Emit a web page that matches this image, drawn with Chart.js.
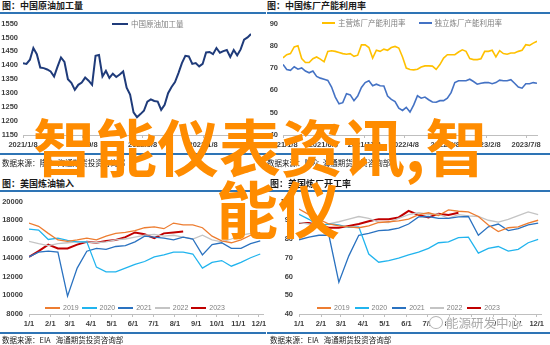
<!DOCTYPE html>
<html lang="zh">
<head>
<meta charset="utf-8">
<title>智能仪表资讯</title>
<script src="https://cdn.jsdelivr.net/npm/chart.js@4.4.0/dist/chart.umd.min.js"></script>
<style>
  html, body { margin: 0; padding: 0; background: #fff; }
  body {
    width: 550px; height: 345px; position: relative; overflow: hidden;
    font-family: "Noto Sans CJK SC", "Liberation Sans", sans-serif;
  }
  canvas { position: absolute; }
  .title { position: absolute; font-size: 9px; line-height: 12px; color: #1a1a1a; font-weight: bold; white-space: nowrap; }
  .source { position: absolute; font-size: 7.5px; line-height: 12px; color: #1a1a1a; white-space: nowrap; }
  .rule { position: absolute; height: 1.5px; background: #2e74b5; }
  .legend { position: absolute; display: flex; align-items: center; font-size: 7.5px; line-height: 10px; color: #7f7f7f; white-space: nowrap; }
  .legend .item { display: flex; align-items: center; }
  .legend .swatch { display: inline-block; margin-right: 3px; }
  .legend.years { font-family: "Liberation Sans", sans-serif; font-size: 7px; }
  .watermark { position: absolute; left: 446px; top: 314px; font-size: 12.5px; line-height: 18px; color: #a9a9a9;
    text-shadow: 1px 0 #fff, -1px 0 #fff, 0 1px #fff, 0 -1px #fff; white-space: nowrap; }
  .wm-icon { position: absolute; left: 429px; top: 316px; width: 12px; height: 11px; border: 1.2px solid #b5b5b5; border-radius: 50%; background: #fff; }
  .overlay { position: absolute; color: #ff8c00; font-size: 62px; line-height: 62px; font-weight: bold; white-space: nowrap;
    font-family: "Noto Sans CJK SC", sans-serif; }
</style>
</head>
<body>

<div class="title" style="left:2px; top:0px;">图：中国原油加工量</div>
<div class="title" style="left:267px; top:0px;">图：中国炼厂产能利用率</div>
<div class="rule" style="left:0; top:12px; width:266px;"></div>
<div class="rule" style="left:267px; top:12px; width:283px;"></div>

<canvas id="crudeChart" width="262" height="140" style="left:0; top:14px;"></canvas>
<canvas id="utilChart" width="284" height="140" style="left:266px; top:14px;"></canvas>

<div class="rule" style="left:0; top:153px; width:266px;"></div>
<div class="rule" style="left:267px; top:153px; width:283px;"></div>
<div class="source" style="left:2px; top:157px;">数据来源：隆众&nbsp;&nbsp;海通期货投资咨询部</div>
<div class="source" style="left:267px; top:157px;">数据来源：隆众&nbsp;&nbsp;海通期货投资咨询部</div>

<div class="title" style="left:2px; top:178px;">图：美国炼油输入</div>
<div class="title" style="left:270px; top:178px;">图：美国炼厂开工率</div>
<div class="rule" style="left:0; top:190px; width:266px;"></div>
<div class="rule" style="left:267px; top:190px; width:283px;"></div>

<canvas id="inputChart" width="272" height="142" style="left:0; top:191px;"></canvas>
<canvas id="rateChart" width="280" height="142" style="left:270px; top:191px;"></canvas>

<div class="rule" style="left:0; top:332px; width:266px;"></div>
<div class="rule" style="left:267px; top:332px; width:283px;"></div>
<div class="source" style="left:2px; top:334px;">数据来源：EIA&nbsp;&nbsp;&nbsp;海通期货投资咨询部</div>
<div class="source" style="left:270px; top:334px;">数据来源：EIA&nbsp;&nbsp;&nbsp;海通期货投资咨询部</div>

<div id="legendCrude" class="legend" style="left:112px; top:19px;"></div>
<div id="legendUtil" class="legend" style="left:322px; top:18px;"></div>
<div id="legendInput" class="legend years" style="left:45px; top:303px;"></div>
<div id="legendRate" class="legend years" style="left:317px; top:303px;"></div>

<div class="wm-icon"></div>
<div class="watermark">能源研发中心</div>

<div class="overlay" style="left:33px; top:114px;">智能仪表资讯,智</div>
<div class="overlay" style="left:216px; top:176px;">能仪</div>

<script>
// ===================================
// DATA
// ===================================

// top charts: one value every 14 days, starting at the first date
const crudeStart = '2021/1/8';
const crudeTicks = ['2021/1/8', '2021/9/8', '2022/5/8', '2023/1/8'];
const crudeRuns = [1407, 1405, 1420, 1462, 1440, 1392, 1390, 1385, 1378, 1360,
    1395, 1428, 1412, 1350, 1337, 1312, 1330, 1338, 1356, 1345,
    1330, 1434, 1437, 1360, 1380, 1355, 1370, 1358, 1367, 1378,
    1320, 1295, 1231, 1214, 1225, 1237, 1270, 1278, 1272, 1270,
    1240, 1258, 1300, 1322, 1340, 1372, 1408, 1434, 1432, 1405,
    1408, 1396, 1405, 1446, 1448, 1440, 1462, 1445, 1451, 1455,
    1430, 1455, 1436, 1457, 1492, 1500, 1512];

const utilStart = '2021/1/8';
const utilTicks = ['2021/1/8', '2021/6/8', '2021/11/8', '2022/4/8', '2022/9/8', '2023/2/8', '2023/7/8'];
const mainRefinery = [74.6, 76, 76.5, 79.5, 80, 74.3, 72.5, 72.5, 74.2, 75,
    74, 72.8, 77.5, 77.8, 77.5, 77, 76.5, 76.2, 76.5, 75.3,
    75.8, 80.4, 80.4, 79.2, 74.5, 78, 77.5, 78.5, 78, 79.2,
    79.7, 79, 75, 70, 69.4, 69.2, 69.5, 70.5, 71, 71,
    70.9, 69.4, 71.6, 74.5, 76, 76, 76, 77.2, 78.2, 77.5,
    74.3, 73.8, 73.8, 74.2, 77.5, 77.5, 78, 75, 77.8, 76.5,
    76.2, 76.8, 76.8, 77.5, 78, 80.5, 80.2, 81.2, 82];
const independentRefinery = [71.6, 69.4, 69, 70.6, 69.5, 70.1, 68.7, 67.9, 68.7, 66.3,
    65.5, 65, 64.5, 61.5, 57, 54, 54.5, 58.5, 58, 55.4,
    57.5, 61.3, 63.5, 64.3, 62.1, 62.8, 62.1, 62, 57.5, 56,
    55, 52, 51, 52.4, 50.3, 53.5, 57.6, 56.5, 57, 55.8,
    54.8, 54.7, 55.4, 55.4, 56.5, 59, 63.5, 64.3, 64.3, 64.3,
    65, 64, 62.8, 63.2, 63.5, 63.5, 63, 63.5, 64.6, 64.3,
    64.3, 64.8, 63.2, 61.5, 61, 63, 63, 63.5, 63.2];

// bottom charts: seasonal, one value every 14 days from 1/1
const seasonYear = 2019;
const monthTicks = ['1/1', '2/1', '3/1', '4/1', '5/1', '6/1', '7/1', '8/1', '9/1', '10/1', '11/1', '12/1'];
const years = ['2019', '2020', '2021', '2022', '2023'];

const input2019 = [17700, 17350, 16600, 15900, 15750, 15900, 16100, 15900, 16300, 16600, 16700, 16900, 17200,
    17300, 17100, 17700, 17500, 17500, 17200, 16300, 15800, 15600, 15900, 16400, 16700];
const input2020 = [17060, 16950, 15950, 16100, 15850, 15700, 15700, 13000, 12500, 12500, 12900, 13300, 13600,
    14100, 14300, 14600, 14600, 14400, 12900, 13500, 13700, 13100, 13500, 14000, 14400];
const input2021 = [14100, 14600, 14700, 14600, 9900, 12900, 14700, 15000, 14900, 15200, 15300, 15700, 16300,
    16200, 16100, 15900, 16200, 16000, 14300, 15400, 15600, 15000, 15000, 15500, 15800];
const input2022 = [15750, 15500, 15300, 15500, 15600, 15700, 15700, 15600, 15700, 15900, 16000, 16200, 16400,
    16500, 16300, 16400, 16200, 16000, 16400, 15900, 15700, 16000, 16400, 16600, 16500];
const input2023 = [14100, 14700, 15400, 15000, 15000, 15400, 15700, 15600, 15800, 15900, 16200, 16700, 16500,
    16100, 16600, 16700, 16800];

const rate2019 = [96, 93, 90.5, 88, 87, 86.5, 86, 87, 88.8, 89.2, 89.7, 90.6, 93,
    94, 92.5, 95.5, 94.8, 94.5, 92, 87.5, 84, 86, 86.5, 88.5, 90];
const rate2020 = [93.2, 90.5, 87, 88, 87.5, 86.2, 86.5, 72, 67.6, 68.5, 69.8, 71.5, 73,
    75, 78, 78.5, 80.7, 81, 72.5, 75, 76, 73.5, 74.5, 78, 79.8];
const rate2021 = [79.6, 81, 82, 82, 57, 71, 82, 83, 84.5, 84.8, 85.8, 88, 91.8,
    92, 91, 91, 91.8, 92, 82, 86.5, 88, 84.5, 85.5, 87.5, 88.5];
const rate2022 = [88.8, 88, 87.2, 88, 89.2, 90.6, 92, 91, 89, 88.8, 91, 93, 94,
    93.2, 93.2, 91, 93, 92.3, 92, 90, 89, 90.5, 92.5, 94.5, 93];
const rate2023 = [88.5, 88.5, 87.4, 86, 86, 87, 88, 89.5, 90.6, 90.6, 91.5, 95, 92.8,
    91.5, 93.5, 92.8, 94];

const yearColors = ['#ed7d31', '#21b4ee', '#2a72c0', '#c4c4c4', '#c00000'];
const yearWidths = [1.3, 1.3, 1.3, 1.3, 2];

// ===================================
// HELPERS
// ===================================

const STEP_DAYS = 14;

function parseDay(str) {
    const [y, m, d] = str.split('/').map(Number);
    return Date.UTC(y, m - 1, d) / 864e5;
}

function daysBetween(from, to) {
    return Math.round(parseDay(to) - parseDay(from));
}

function toPoints(values) {
    return values.map((v, i) => ({ x: i * STEP_DAYS, y: v }));
}

const tickFont = { family: 'Liberation Sans', size: 7.5, weight: 'bold' };

/**
 * Build one line chart with a day-based x axis and fixed label ticks
 */
function makeChart(id, opts) {
    const ctx = document.getElementById(id).getContext('2d');
    return new Chart(ctx, {
        type: 'line',
        data: {
            datasets: opts.series.map(s => ({
                label: s.name,
                data: toPoints(s.values),
                borderColor: s.color,
                backgroundColor: s.color,
                borderWidth: s.width,
                pointRadius: 0,
                tension: 0,
                fill: false
            }))
        },
        options: {
            responsive: false,
            animation: false,
            events: [],
            layout: { padding: opts.padding },
            plugins: { legend: { display: false }, tooltip: { enabled: false } },
            scales: {
                x: {
                    type: 'linear',
                    min: 0,
                    max: opts.xMax,
                    grid: { drawOnChartArea: false, color: '#bfbfbf', tickLength: 3 },
                    border: { color: '#bfbfbf' },
                    ticks: {
                        font: tickFont, color: '#404040', padding: 2,
                        maxRotation: 0, autoSkip: false,
                        callback: (value, index) => opts.tickLabels[index]
                    },
                    afterBuildTicks: scale => {
                        scale.ticks = opts.tickValues.map(v => ({ value: v }));
                    },
                    afterFit: scale => { scale.height = opts.xHeight; }
                },
                y: {
                    min: opts.yMin,
                    max: opts.yMax,
                    grid: { display: false, drawTicks: false },
                    border: { display: false },
                    ticks: {
                        stepSize: opts.yStep, font: tickFont, color: '#404040', padding: opts.yPad,
                        callback: value => String(value)
                    },
                    afterFit: scale => { scale.width = opts.yWidth; }
                }
            }
        }
    });
}

function buildLegend(id, series, lineLength, gap) {
    const box = document.getElementById(id);
    box.style.gap = gap + 'px';
    series.forEach(s => {
        const item = document.createElement('span');
        item.className = 'item';
        const sw = document.createElement('span');
        sw.className = 'swatch';
        sw.style.width = lineLength + 'px';
        sw.style.height = Math.max(1.5, s.width) + 'px';
        sw.style.background = s.color;
        item.appendChild(sw);
        item.appendChild(document.createTextNode(s.name));
        box.appendChild(item);
    });
}

// ===================================
// CHARTS
// ===================================

const crudeSeries = [{ name: '中国原油加工量', values: crudeRuns, color: '#1f3b7a', width: 2 }];
makeChart('crudeChart', {
    series: crudeSeries,
    xMax: (crudeRuns.length - 1) * STEP_DAYS,
    tickValues: crudeTicks.map(t => daysBetween(crudeStart, t)),
    tickLabels: crudeTicks,
    yMin: 1150, yMax: 1550, yStep: 50,
    padding: { top: 6, right: 11, left: 0, bottom: 0 },
    yWidth: 23, yPad: 5, xHeight: 19
});
buildLegend('legendCrude', crudeSeries, 16, 0);

const utilSeries = [
    { name: '主营炼厂产能利用率', values: mainRefinery, color: '#ffc000', width: 1.6 },
    { name: '独立炼厂产能利用率', values: independentRefinery, color: '#4472c4', width: 1.6 }
];
makeChart('utilChart', {
    series: utilSeries,
    xMax: (mainRefinery.length - 1) * STEP_DAYS,
    tickValues: utilTicks.map(t => daysBetween(utilStart, t)),
    tickLabels: utilTicks,
    yMin: 40, yMax: 90, yStep: 10,
    padding: { top: 8, right: 13, left: 0, bottom: 0 },
    yWidth: 17, yPad: 5, xHeight: 19
});
buildLegend('legendUtil', utilSeries, 13, 13);

const seasonStart = seasonYear + '/1/1';
const monthTickDays = monthTicks.map(t => daysBetween(seasonStart, seasonYear + '/' + t));

const inputValues = [input2019, input2020, input2021, input2022, input2023];
const inputSeries = years.map((y, i) => ({ name: y, values: inputValues[i], color: yearColors[i], width: yearWidths[i] }));
makeChart('inputChart', {
    series: inputSeries,
    xMax: 340,
    tickValues: monthTickDays,
    tickLabels: monthTicks,
    yMin: 8000, yMax: 20000, yStep: 2000,
    padding: { top: 7, right: 9, left: 0, bottom: 0 },
    yWidth: 29, yPad: 6, xHeight: 19
});
buildLegend('legendInput', inputSeries, 15, 3);

const rateValues = [rate2019, rate2020, rate2021, rate2022, rate2023];
const rateSeries = years.map((y, i) => ({ name: y, values: rateValues[i], color: yearColors[i], width: yearWidths[i] }));
makeChart('rateChart', {
    series: rateSeries,
    xMax: 340,
    tickValues: monthTickDays,
    tickLabels: monthTicks,
    yMin: 40, yMax: 100, yStep: 10,
    padding: { top: 7, right: 9, left: 0, bottom: 0 },
    yWidth: 29, yPad: 6, xHeight: 19
});
buildLegend('legendRate', rateSeries, 14, 5);
</script>
</body>
</html>
